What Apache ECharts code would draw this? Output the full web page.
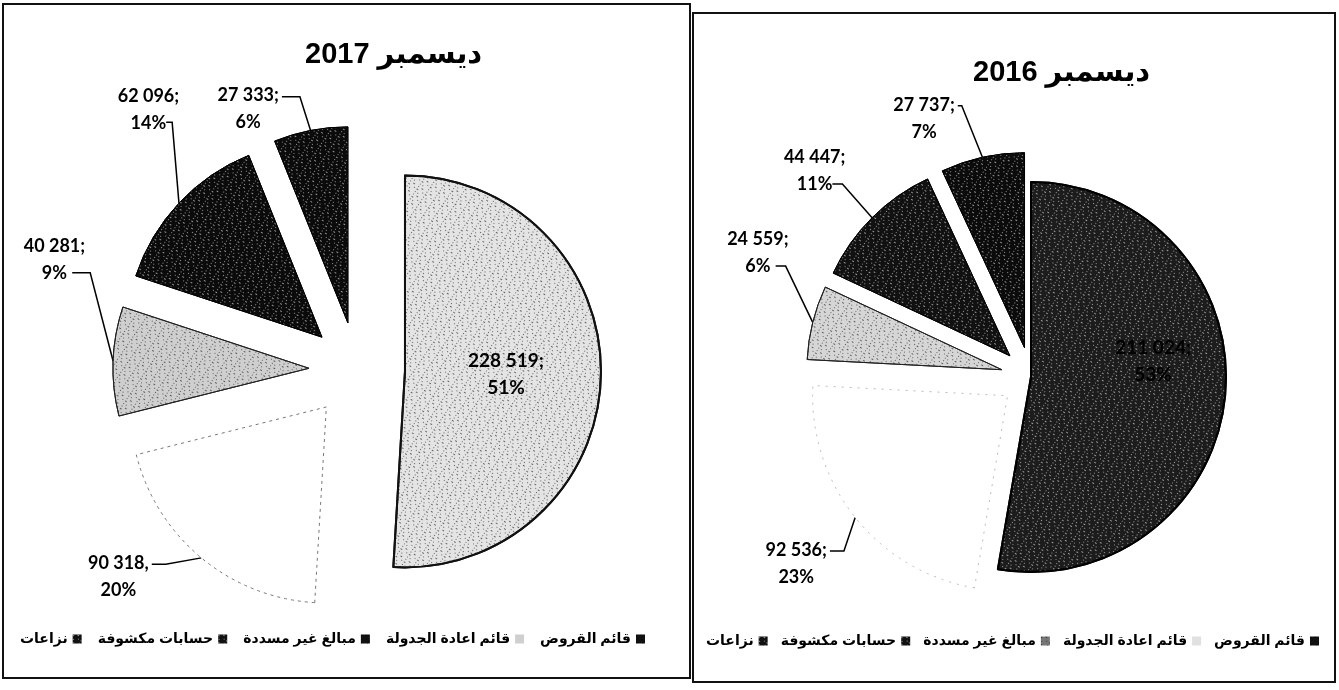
<!DOCTYPE html>
<html><head><meta charset="utf-8">
<script src="https://cdn.jsdelivr.net/npm/echarts@6/dist/echarts.min.js"></script>
<style>html,body{margin:0;background:#fff}#c{width:1339px;height:690px}</style>
</head><body><div id="c"></div>
<script>
const categories = ['قائم القروض', 'قائم اعادة الجدولة', 'مبالغ غير مسددة', 'حسابات مكشوفة', 'نزاعات'];
const values2017 = [228519, 90318, 40281, 62096, 27333];
const values2016 = [211024, 92536, 24559, 44447, 27737];
const sep2017 = [';', ',', ';', ';', ';'];
const sep2016 = [';', ';', ';', ';', ';'];
const titles = ['ديسمبر 2017', 'ديسمبر 2016'];

const fmt = v => String(v).replace(/\B(?=(\d{3})+(?!\d))/g, ' ');
const labelFont = 'Lato, "Liberation Sans", sans-serif';
const arFont = '"Liberation Sans", "DejaVu Sans", sans-serif';

function speck(light) {
  return {
    symbol: 'rect', symbolSize: 1,
    color: light ? 'rgba(255,255,255,0.55)' : 'rgba(0,0,0,0.55)',
    dashArrayX: [[1, 3, 2, 4], [2, 5, 1, 2], [1, 2, 1, 6]],
    dashArrayY: [1, 2],
    rotation: 0.6
  };
}
const style2017 = [
  {color: '#e4e4e4', borderColor: '#111', borderWidth: 2, decal: speck(false)},
  {color: '#ffffff', borderColor: '#777', borderWidth: 1, borderType: [3, 4]},
  {color: '#cfcfcf', borderColor: '#222', borderWidth: 1, decal: speck(false)},
  {color: '#0b0b0b', borderColor: '#000', borderWidth: 1, decal: speck(true)},
  {color: '#0b0b0b', borderColor: '#000', borderWidth: 1, decal: speck(true)}
];
const style2016 = [
  {color: '#1c1c1c', borderColor: '#000', borderWidth: 2, decal: speck(true)},
  {color: '#ffffff', borderColor: '#bbb', borderWidth: 1, borderType: [2, 6]},
  {color: '#d6d6d6', borderColor: '#222', borderWidth: 1, decal: speck(false)},
  {color: '#111111', borderColor: '#000', borderWidth: 1, decal: speck(true)},
  {color: '#0b0b0b', borderColor: '#000', borderWidth: 1, decal: speck(true)}
];
const lineLen2017 = [[0, 0], [40, 30], [40, 25], [45, 10], [35, 20]];
const lineLen2016 = [[0, 0], [40, 20], [30, 20], [35, 15], [40, 20]];
const nudge2017 = [[0, 0], [8, -12], [42, -100], [48, -63], [0, 13]];
const nudge2016 = [[22, -24], [28, 21], [30, -62], [18, -22], [6, 0]];
const anchor2017 = [0, 0, 1, 1, 0];
const anchor2016 = [0, 0, 1, 1, 0];
const hook2017 = [0, 14, 18, 6, 18];
const hook2016 = [0, 14, 10, 10, 4];

function buildData(values, styles, lens, selectBig) {
  return values.map((v, i) => ({
    name: categories[i],
    value: v,
    selected: i === 0 ? selectBig : true,
    itemStyle: styles[i],
    label: i === 0 ? {position: 'inside', fontSize: 19} : {position: 'outside'},
    labelLine: {show: i !== 0, length: lens[i][0], length2: lens[i][1]}
  }));
}
function makeLayout(nudges, anchors, hooks) {
  return p => {
    const i = p.dataIndex, n = nudges[i], r = p.labelRect;
    if (i === 0) return {dx: n[0], dy: n[1]};
    const x = r.x + n[0], y = r.y + n[1];
    const cx = x + r.width / 2;
    const ax = anchors[i] === 0 ? x + r.width + 3 : cx + r.width * 0.24 + 3;
    const ay = y + r.height * (anchors[i] === 0 ? 0.27 : 0.74);
    const p0 = p.labelLinePoints[0];
    return {
      dx: n[0] - r.width / 2, dy: n[1], align: 'center',
      labelLinePoints: [p0, [ax + hooks[i], ay], [ax, ay]]
    };
  };
}
function pieSeries(name, center, radius, offset, values, seps, styles, lens, nudges, anchors, hooks, selectBig) {
  return {
    type: 'pie', name, center, radius, startAngle: 90, clockwise: true,
    selectedMode: 'multiple', selectedOffset: offset, percentPrecision: 0,
    avoidLabelOverlap: false, animation: false, silent: true,
    data: buildData(values, styles, lens, selectBig),
    label: {
      color: '#000', fontFamily: labelFont, fontWeight: 'bold', fontSize: 18, lineHeight: 27,
      formatter: p => fmt(p.value) + seps[p.dataIndex] + '\n' + p.percent + '%'
    },
    labelLine: {lineStyle: {color: '#000', width: 1.5}, smooth: false},
    labelLayout: makeLayout(nudges, anchors, hooks),
    emphasis: {disabled: true}
  };
}

const legendOrder = categories.slice().reverse();
const legendIcons2017 = ['#111', '#111', '#111', '#cfcfcf', '#111'];
const legendIcons2016 = ['#111', '#111', '#777', '#e0e0e0', '#111'];
function legend(left, top, gap, icons) {
  return {
    left, top, width: 1200, padding: 0, orient: 'horizontal', align: 'right', icon: 'rect',
    itemWidth: 9, itemHeight: 9, itemGap: gap, selectedMode: false,
    textStyle: {fontFamily: arFont, fontWeight: 'bold', fontSize: 14, color: '#000'},
    data: legendOrder.map((n, i) => ({name: n, itemStyle: {color: icons[i], borderWidth: 0}}))
  };
}

const chart = echarts.init(document.getElementById('c'), null, {renderer: 'canvas'});
chart.setOption({
  backgroundColor: '#fff',
  title: [
    {text: titles[0], left: 300, top: 35, textStyle: {fontFamily: arFont, fontWeight: 'bold', fontSize: 29, color: '#000'}},
    {text: titles[1], left: 968, top: 53, textStyle: {fontFamily: arFont, fontWeight: 'bold', fontSize: 29, color: '#000'}}
  ],
  legend: [legend(20, 632, 16, legendIcons2017), legend(706, 634, 13, legendIcons2016)],
  graphic: [
    {type: 'rect', shape: {x: 3, y: 4, width: 687, height: 674}, style: {fill: 'none', stroke: '#111', lineWidth: 2}, silent: true},
    {type: 'rect', shape: {x: 693, y: 13, width: 642, height: 669}, style: {fill: 'none', stroke: '#111', lineWidth: 2}, silent: true}
  ],
  series: [
    pieSeries('2017', [357, 370], 196, 48, values2017, sep2017, style2017, lineLen2017, nudge2017, anchor2017, hook2017, true),
    pieSeries('2016', [1031, 377], 195, 30, values2016, sep2016, style2016, lineLen2016, nudge2016, anchor2016, hook2016, false)
  ]
});
</script>
</body></html>
